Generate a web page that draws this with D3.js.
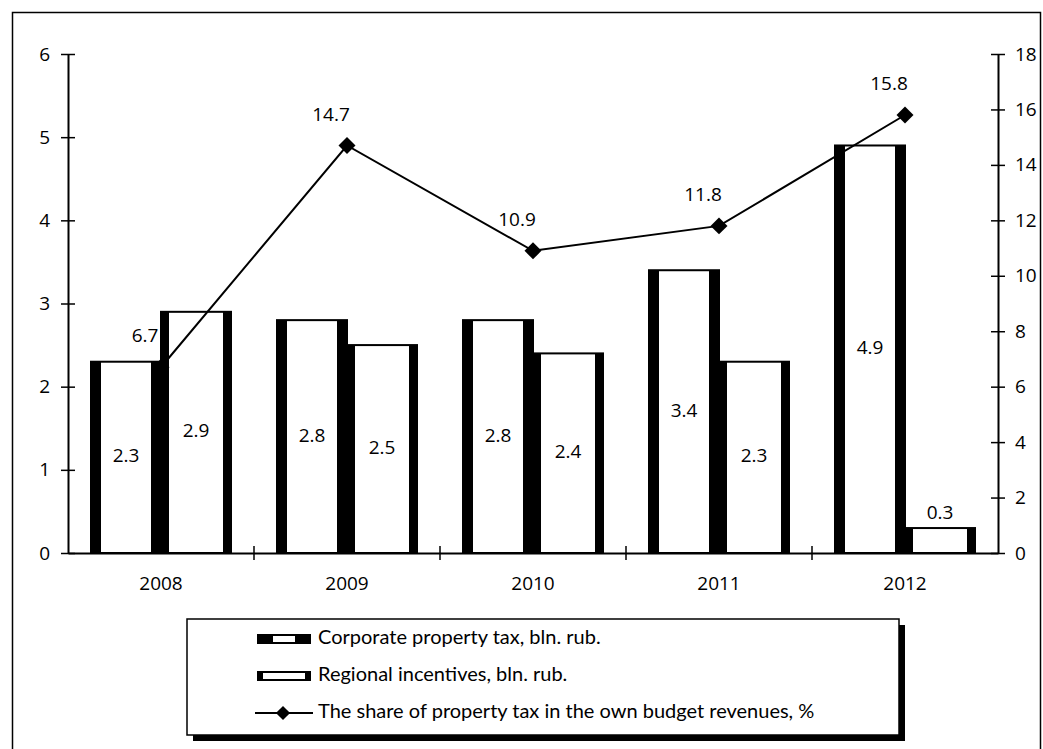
<!DOCTYPE html>
<html lang="en">
<head>
    <meta charset="UTF-8">
    <title>property tax</title>
    <script src="https://d3js.org/d3.v7.min.js"></script>
    <style>
        body { margin: 0; background: #fff; overflow: hidden; }
        svg { display: block; }
        text { font-family: "Open Sans", sans-serif; fill: #000; }
        .legend text { font-family: "Lato", sans-serif; }
    </style>
</head>
<body>
    <svg id="chart" width="1043" height="749"></svg>
    <script>
        // data
        const years = ["2008", "2009", "2010", "2011", "2012"];
        const corporateTax = [2.3, 2.8, 2.8, 3.4, 4.9];
        const regionalIncentives = [2.9, 2.5, 2.4, 2.3, 0.3];
        const taxShare = [6.7, 14.7, 10.9, 11.8, 15.8];
        const leftTicks = [0, 1, 2, 3, 4, 5, 6];
        const rightTicks = [0, 2, 4, 6, 8, 10, 12, 14, 16, 18];
        const seriesNames = ["Corporate property tax, bln. rub.", "Regional incentives, bln. rub.",
            "The share of property tax in the own budget revenues, %"];

        const svg = d3.select("#chart");
        const margin = { left: 68, right: 45, top: 54, bottom: 196 };
        const width = +svg.attr("width");
        const height = +svg.attr("height");
        const x0 = margin.left, x1 = width - margin.right;
        const yTop = margin.top, yBottom = height - margin.bottom;
        const fontSize = "19px";

        // outer frame
        svg.append("rect")
            .attr("x", 12.5).attr("y", 12.5)
            .attr("width", 1028).attr("height", 760)
            .attr("fill", "none").attr("stroke", "#000").attr("stroke-width", 1.5);

        const xScale = d3.scaleBand().domain(years).range([x0, x1]);
        const inner = d3.scaleBand().domain(["corp", "reg"])
            .range([23, xScale.bandwidth() - 23]);
        const yLeft = d3.scaleLinear().domain([0, 6]).range([yBottom, yTop]);
        const yRight = d3.scaleLinear().domain([0, 18]).range([yBottom, yTop]);

        // axes
        const leftAxis = svg.append("g")
            .attr("transform", `translate(${x0},0)`)
            .call(d3.axisLeft(yLeft).tickValues(leftTicks).tickFormat(d3.format("d"))
                .tickSize(7).tickSizeOuter(0).tickPadding(11));
        leftAxis.selectAll(".tick line").attr("x1", -7).attr("x2", 7);

        const rightAxis = svg.append("g")
            .attr("transform", `translate(${x1},0)`)
            .call(d3.axisRight(yRight).tickValues(rightTicks).tickFormat(d3.format("d"))
                .tickSize(7).tickSizeOuter(0).tickPadding(10));
        rightAxis.selectAll(".tick line").attr("x1", -7).attr("x2", 7);

        const bottomAxis = svg.append("g")
            .attr("transform", `translate(0,${yBottom})`)
            .call(d3.axisBottom(xScale).tickSize(0).tickSizeOuter(0).tickPadding(24));
        // ticks between categories
        bottomAxis.selectAll(".sep")
            .data(years.slice(1))
            .join("line")
            .attr("class", "sep")
            .attr("x1", d => xScale(d)).attr("x2", d => xScale(d))
            .attr("y1", -7).attr("y2", 7)
            .attr("stroke", "#000").attr("stroke-width", 1.5);

        svg.selectAll(".domain").attr("stroke", "#000").attr("stroke-width", 2);
        svg.selectAll(".tick line").attr("stroke", "#000").attr("stroke-width", 1.5);
        svg.selectAll(".tick text").style("font-size", fontSize).attr("fill", "#000");

        // bars
        const barData = [];
        years.forEach((y, i) => {
            barData.push({ year: y, key: "reg", value: regionalIncentives[i] });
            barData.push({ year: y, key: "corp", value: corporateTax[i] });
        });

        const bars = svg.append("g").selectAll("g")
            .data(barData)
            .join("g")
            .attr("transform", d => `translate(${xScale(d.year) + inner(d.key)},0)`);

        const bw = inner.bandwidth();
        const edge = d => d.key === "corp" ? 10 : 8;
        bars.append("rect")
            .attr("x", 0).attr("width", bw)
            .attr("y", d => yLeft(d.value))
            .attr("height", d => yBottom - yLeft(d.value))
            .attr("fill", "#fff").attr("stroke", "#000").attr("stroke-width", 2);
        // thick side edges
        bars.append("rect")
            .attr("x", 0).attr("width", edge)
            .attr("y", d => yLeft(d.value))
            .attr("height", d => yBottom - yLeft(d.value))
            .attr("fill", "#000");
        bars.append("rect")
            .attr("x", d => bw - edge(d)).attr("width", edge)
            .attr("y", d => yLeft(d.value))
            .attr("height", d => yBottom - yLeft(d.value))
            .attr("fill", "#000");

        bars.append("text")
            .attr("x", bw / 2)
            .attr("y", d => d.value < 1 ? yLeft(d.value) - 14 : (yLeft(d.value) + yBottom) / 2)
            .attr("text-anchor", "middle")
            .attr("dominant-baseline", "middle")
            .style("font-size", fontSize)
            .text(d => d.value.toFixed(1));

        // share line
        const pts = years.map((y, i) => ({ year: y, value: taxShare[i] }));
        const cx = d => xScale(d.year) + xScale.bandwidth() / 2;
        svg.append("path")
            .datum(pts)
            .attr("fill", "none").attr("stroke", "#000").attr("stroke-width", 2)
            .attr("d", d3.line().x(cx).y(d => yRight(d.value)));

        svg.selectAll(".marker")
            .data(pts)
            .join("rect")
            .attr("class", "marker")
            .attr("x", -6).attr("y", -6).attr("width", 12).attr("height", 12)
            .attr("transform", d => `translate(${cx(d)},${yRight(d.value)}) rotate(45)`)
            .attr("fill", "#000");

        svg.selectAll(".shareLabel")
            .data(pts)
            .join("text")
            .attr("class", "shareLabel")
            .attr("x", d => cx(d) - 16)
            .attr("y", d => yRight(d.value) - 30)
            .attr("text-anchor", "middle")
            .attr("dominant-baseline", "middle")
            .style("font-size", fontSize)
            .text(d => d.value.toFixed(1));

        // legend
        const legend = svg.append("g").attr("class", "legend");
        legend.append("rect")
            .attr("x", 193).attr("y", 625).attr("width", 712).attr("height", 116)
            .attr("fill", "#000");
        legend.append("rect")
            .attr("x", 187).attr("y", 619).attr("width", 712).attr("height", 116)
            .attr("fill", "#fff").attr("stroke", "#000").attr("stroke-width", 1.5);

        const rowY = [639, 676, 713];
        // corporate symbol
        legend.append("rect").attr("x", 257).attr("y", rowY[0] - 5).attr("width", 54).attr("height", 10).attr("fill", "#000");
        legend.append("rect").attr("x", 273).attr("y", rowY[0] - 3).attr("width", 22).attr("height", 6).attr("fill", "#fff");
        // regional symbol
        legend.append("rect").attr("x", 257).attr("y", rowY[1] - 5).attr("width", 54).attr("height", 10).attr("fill", "#000");
        legend.append("rect").attr("x", 263).attr("y", rowY[1] - 3).attr("width", 42).attr("height", 6).attr("fill", "#fff");
        // line symbol
        legend.append("line").attr("x1", 255).attr("x2", 313).attr("y1", rowY[2]).attr("y2", rowY[2])
            .attr("stroke", "#000").attr("stroke-width", 2);
        legend.append("rect").attr("x", -5).attr("y", -5).attr("width", 10).attr("height", 10)
            .attr("transform", `translate(283,${rowY[2]}) rotate(45)`).attr("fill", "#000");

        legend.selectAll(".ltext")
            .data(seriesNames)
            .join("text")
            .attr("class", "ltext")
            .attr("x", 318)
            .attr("y", (d, i) => rowY[i])
            .attr("dominant-baseline", "middle")
            .style("font-size", "20px")
            .text(d => d);
    </script>
</body>
</html>
